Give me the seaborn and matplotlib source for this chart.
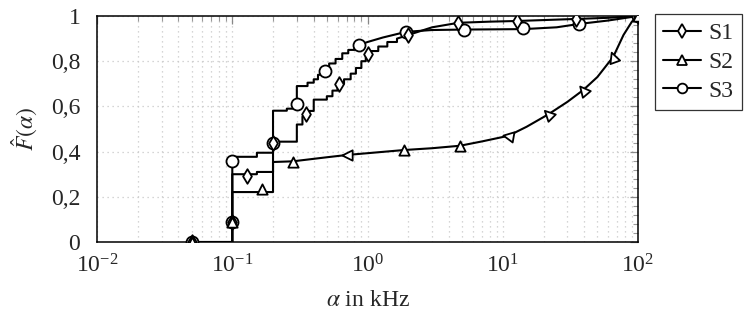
import numpy as np
import pandas as pd
import matplotlib
matplotlib.use("Agg")
import matplotlib.pyplot as plt
from matplotlib.lines import Line2D
from matplotlib.markers import MarkerStyle
from matplotlib.transforms import Affine2D
import matplotlib.ticker as mticker
import seaborn as sns

# ---- data ----
s1_x = [0.05, 0.1, 0.1, 0.152, 0.152, 0.2, 0.2, 0.3, 0.3, 0.33, 0.33, 0.37, 0.37, 0.4, 0.4,
        0.5, 0.5, 0.55, 0.55, 0.6, 0.6, 0.67, 0.67, 0.75, 0.75, 0.82, 0.82, 0.9, 0.9, 0.97,
        0.97, 1.05, 1.05, 1.2, 1.2, 1.4, 1.4, 1.65, 1.65, 2.0, 3.0, 4.7, 8.0, 12.8, 20.0,
        34.8, 60.0, 100.0]
s1_y = [0.0, 0.0, 0.30, 0.30, 0.31, 0.31, 0.444, 0.444, 0.52, 0.52, 0.555, 0.555, 0.58, 0.58,
        0.63, 0.63, 0.645, 0.645, 0.67, 0.67, 0.70, 0.70, 0.72, 0.72, 0.745, 0.745, 0.77, 0.77,
        0.80, 0.80, 0.82, 0.82, 0.845, 0.845, 0.865, 0.865, 0.885, 0.885, 0.90, 0.916, 0.95,
        0.97, 0.975, 0.978, 0.982, 0.987, 0.992, 1.0]

s2_x = [0.05, 0.1, 0.1, 0.2, 0.2, 0.28, 0.5, 0.7, 1.0, 1.86, 3.0, 4.83, 7.0, 11.0, 15.0,
        21.7, 30.0, 39.4, 50.0, 65.6, 78.0, 90.0, 100.0]
s2_y = [0.0, 0.0, 0.221, 0.221, 0.354, 0.357, 0.375, 0.385, 0.393, 0.407, 0.415, 0.426,
        0.445, 0.47, 0.51, 0.565, 0.62, 0.673, 0.73, 0.82, 0.916, 0.975, 1.0]

s3_x = [0.05, 0.1, 0.1, 0.152, 0.152, 0.2, 0.2, 0.253, 0.253, 0.3, 0.3, 0.36, 0.36, 0.4, 0.4,
        0.43, 0.43, 0.48, 0.48, 0.52, 0.52, 0.58, 0.58, 0.65, 0.65, 0.72, 0.72, 0.8, 0.8,
        0.9, 1.0, 1.3, 1.93, 3.0, 5.2, 14.2, 25.0, 36.8, 60.0, 100.0]
s3_y = [0.0, 0.0, 0.377, 0.377, 0.395, 0.395, 0.581, 0.581, 0.59, 0.59, 0.69, 0.69, 0.705,
        0.705, 0.72, 0.72, 0.74, 0.74, 0.76, 0.76, 0.79, 0.79, 0.81, 0.81, 0.835, 0.835, 0.85,
        0.85, 0.865, 0.875, 0.885, 0.905, 0.93, 0.938, 0.94, 0.942, 0.95, 0.965, 0.98, 1.0]

# marker positions
s1_mx = [0.05, 0.1, 0.128, 0.2, 0.35, 0.61, 1.01, 2.0, 4.7, 12.8, 34.8, 100.0]
s1_my = [0.0, 0.09, 0.293, 0.44, 0.565, 0.70, 0.83, 0.916, 0.97, 0.978, 0.987, 1.0]
s2_mx = [0.05, 0.1, 0.165, 0.28, 0.7, 1.86, 4.83, 11.0, 21.7, 39.4, 65.6, 100.0]
s2_my = [0.0, 0.09, 0.233, 0.354, 0.385, 0.407, 0.426, 0.47, 0.565, 0.673, 0.82, 1.0]
s2_rot = [0, 0, 0, 0, 90, 0, 0, 80, 45, 40, 20, 0]
s3_mx = [0.05, 0.1, 0.1, 0.2, 0.3, 0.485, 0.865, 1.93, 5.2, 14.2, 36.8, 100.0]
s3_my = [0.0, 0.09, 0.36, 0.44, 0.61, 0.757, 0.872, 0.93, 0.94, 0.945, 0.965, 1.0]

labels = ["S1", "S2", "S3"]
x_ticks = [1e-2, 1e-1, 1e0, 1e1, 1e2]
y_ticks = [0, 0.2, 0.4, 0.6, 0.8, 1.0]
y_ticklabels = ["0", "0,2", "0,4", "0,6", "0,8", "1"]

# ---- style ----
sns.set_theme(style="white")
plt.rcParams["font.family"] = ["Liberation Serif", "DejaVu Serif"]
plt.rcParams["mathtext.fontset"] = "stix"

FS = 17

fig = plt.figure(figsize=(7.47, 3.22), dpi=100)
ax = fig.add_axes([0.1299, 0.2484, 0.7243, 0.7019])

lw = 1.5
for xs, ys in [(s1_x, s1_y), (s2_x, s2_y), (s3_x, s3_y)]:
    df = pd.DataFrame({"x": xs, "y": ys})
    sns.lineplot(data=df, x="x", y="y", estimator=None, sort=False, ax=ax,
                 color="black", linewidth=lw, zorder=3)

ax.scatter(s3_mx, s3_my, marker="o", s=75, facecolors="white", edgecolors="black",
           linewidths=1.3, zorder=4)
ax.scatter(s1_mx, s1_my, marker="d", s=55, facecolors="white", edgecolors="black",
           linewidths=1.3, zorder=5)
for x, y, r in zip(s2_mx, s2_my, s2_rot):
    m = MarkerStyle("^", transform=Affine2D().rotate_deg(r))
    ax.scatter([x], [y], marker=m, s=55, facecolors="white", edgecolors="black",
               linewidths=1.3, zorder=5)

ax.set_xscale("log")
ax.set_xlim(1e-2, 1e2)
ax.set_ylim(0, 1)
ax.set_xticks(x_ticks)
ax.xaxis.set_minor_locator(mticker.LogLocator(base=10, subs=np.arange(2, 10)))
ax.xaxis.set_minor_formatter(mticker.NullFormatter())
ax.xaxis.set_major_formatter(mticker.LogFormatterSciNotation())
ax.set_yticks(y_ticks)
ax.set_yticklabels(y_ticklabels)
ax.yaxis.set_minor_locator(mticker.MultipleLocator(0.04))

ax.grid(True, which="major", axis="both", color="#c8c8c8", linestyle=(0, (1, 3)), linewidth=0.9)
ax.grid(True, which="minor", axis="x", color="#c8c8c8", linestyle=(0, (1, 3)), linewidth=0.9)

ax.tick_params(which="major", direction="in", length=6, width=0.9, color="#888888",
               top=True, right=True, labelsize=FS)
ax.tick_params(axis="x", which="major", pad=9)
ax.tick_params(axis="y", which="major", pad=12)
ax.tick_params(which="minor", direction="in", length=3.5, width=0.8, color="#999999",
               top=True, right=True)
for sp in ax.spines.values():
    sp.set_color("black")
    sp.set_linewidth(1.1)

ax.set_xlabel(r"$\alpha$ in kHz", fontsize=FS, labelpad=9)
ax.set_ylabel(r"$\hat{F}(\alpha)$", fontsize=FS, labelpad=8)

handles = [
    Line2D([], [], color="black", lw=lw, marker="d", markersize=7, markerfacecolor="white",
           markeredgewidth=1.3),
    Line2D([], [], color="black", lw=lw, marker="^", markersize=7, markerfacecolor="white",
           markeredgewidth=1.3),
    Line2D([], [], color="black", lw=lw, marker="o", markersize=7, markerfacecolor="white",
           markeredgewidth=1.3),
]
leg = fig.legend(handles, labels, loc="upper left", bbox_to_anchor=(0.877, 0.955),
                 frameon=True, fancybox=False, edgecolor="black", fontsize=FS,
                 handlelength=1.6, handletextpad=0.3, borderpad=0.35, labelspacing=0.3,
                 borderaxespad=0)
leg.get_frame().set_linewidth(0.9)

fig.savefig("out.png", dpi=100)
